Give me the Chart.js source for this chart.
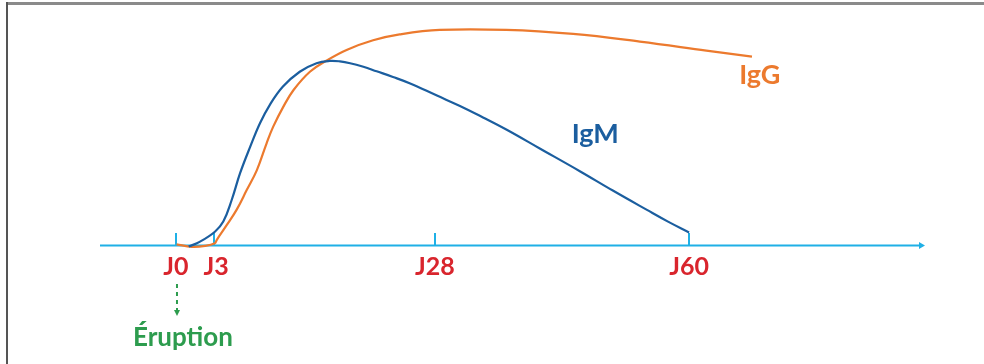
<!DOCTYPE html>
<html>
<head>
<meta charset="utf-8">
<script src="https://cdn.jsdelivr.net/npm/chart.js@4.4.0/dist/chart.umd.min.js"></script>
<style>
html,body{margin:0;padding:0;background:#fff;}
#wrap{position:relative;width:984px;height:364px;}
</style>
</head>
<body>
<div id="wrap"><canvas id="c" width="984" height="364"></canvas></div>
<script>
// ---- data (days after eruption, relative antibody level 0-100) ----
const tickDays   = [0, 3, 28, 60];
const tickLabels = ['J0', 'J3', 'J28', 'J60'];

const igmDays   = [1.0, 1.9, 3.1, 4.05, 5.0, 5.95, 7.1, 8.2, 9.3, 10.8, 12.7, 14.6, 16.1, 17.25, 18.4, 19.9, 21.4, 23.25, 25.2, 28.25, 31.15, 34.05, 37.1, 41.2, 46.3, 50.4, 54.7, 57.35, 60];
const igmLevels = [-0.7, 1.5, 5.9, 10.4, 20, 31.9, 43.7, 54.1, 62.2, 70.4, 77.0, 80.8, 81.8, 81.6, 80.8, 79.2, 77.2, 74.7, 71.8, 66.4, 61.8, 56.7, 51.1, 42.9, 32.7, 24.2, 15.6, 10.4, 5.6];

const iggDays   = [0.05, 1.25, 2.3, 3.1, 3.3, 4.45, 5.55, 6.7, 7.85, 8.95, 9.7, 10.85, 12.0, 13.85, 15.7, 18.0, 21.0, 24.0, 28.6, 37.0, 45.4, 53.8, 62.2, 68.0];
const iggLevels = [0.3, -0.8, -0.4, 0.8, 2.2, 8.9, 15.6, 24.4, 33.3, 45.2, 52.6, 61.5, 68.9, 77.0, 81.9, 86.7, 91.0, 93.6, 95.6, 95.6, 93.8, 90.4, 86.4, 83.7];

const seriesNames = ['IgM', 'IgG'];
const eventLabel = 'Éruption';

// ---- schematic (non-linear) time axis: day -> fraction of axis length ----
const axisKnots = [[-6, 0], [0, 0.0921], [3, 0.1382], [28, 0.406], [60, 0.714], [90, 1]];

function dayToFrac(v) {
  const k = axisKnots;
  let i = 0;
  while (i < k.length - 2 && v > k[i + 1][0]) i++;
  const a = k[i], b = k[i + 1];
  return a[1] + (v - a[0]) * (b[1] - a[1]) / (b[0] - a[0]);
}
function fracToDay(f) {
  const k = axisKnots;
  let i = 0;
  while (i < k.length - 2 && f > k[i + 1][1]) i++;
  const a = k[i], b = k[i + 1];
  return a[0] + (f - a[1]) * (b[0] - a[0]) / (b[1] - a[1]);
}

class SchematicScale extends Chart.LinearScale {
  getPixelForValue(value) { return this.getPixelForDecimal(dayToFrac(value)); }
  getValueForPixel(pixel) { return fracToDay(this.getDecimalForPixel(pixel)); }
}
SchematicScale.id = 'schematic';
SchematicScale.defaults = Chart.LinearScale.defaults;
Chart.register(SchematicScale);

const COL_IGM = '#1b5e9f', COL_IGG = '#ec7a2e', COL_AXIS = '#1fb0e6', COL_RED = '#d9252d', COL_GREEN = '#2d9c4e';
const FONT = '"Lato", "Open Sans", sans-serif';

const decor = {
  id: 'decor',
  beforeDatasetsDraw(chart) {
    const ctx = chart.ctx, x = chart.scales.x, y = chart.scales.y;
    const y0 = y.getPixelForValue(0);
    ctx.save();
    // frame
    ctx.fillStyle = '#8a8a8a';
    ctx.fillRect(6, 2, 978, 3);
    ctx.fillStyle = '#555';
    ctx.fillRect(6, 2, 2, 362);
    // axis line
    ctx.strokeStyle = COL_AXIS; ctx.fillStyle = COL_AXIS; ctx.lineWidth = 2;
    const xl = x.left, xr = x.right;
    ctx.beginPath(); ctx.moveTo(xl, y0 + 0.5); ctx.lineTo(xr - 4, y0 + 0.5); ctx.stroke();
    ctx.beginPath(); ctx.moveTo(xr, y0 + 0.5); ctx.lineTo(xr - 6, y0 - 3); ctx.lineTo(xr - 6, y0 + 4); ctx.closePath(); ctx.fill();
    // ticks
    tickDays.forEach(d => {
      const px = Math.round(x.getPixelForValue(d));
      ctx.beginPath(); ctx.moveTo(px, y0 + 0.5); ctx.lineTo(px, y0 - 12); ctx.stroke();
    });
    ctx.restore();
  },
  afterDatasetsDraw(chart) {
    const ctx = chart.ctx, x = chart.scales.x, y = chart.scales.y;
    const y0 = y.getPixelForValue(0);
    ctx.save();
    ctx.textAlign = 'center'; ctx.textBaseline = 'alphabetic';
    ctx.font = 'bold 25px ' + FONT;
    ctx.fillStyle = COL_RED;
    tickDays.forEach((d, i) => {
      ctx.fillText(tickLabels[i], x.getPixelForValue(d) + (i === 1 ? 2 : 0), y0 + 30);
    });
    // eruption arrow
    const ex = x.getPixelForValue(tickDays[0]) + 1;
    ctx.strokeStyle = COL_GREEN; ctx.fillStyle = COL_GREEN; ctx.lineWidth = 2;
    ctx.setLineDash([4, 4]);
    ctx.beginPath(); ctx.moveTo(ex, y0 + 39); ctx.lineTo(ex, y0 + 65); ctx.stroke();
    ctx.setLineDash([]);
    ctx.beginPath(); ctx.moveTo(ex - 3, y0 + 65); ctx.lineTo(ex + 3, y0 + 65); ctx.lineTo(ex, y0 + 71); ctx.closePath(); ctx.fill();
    ctx.font = 'bold 26px ' + FONT;
    ctx.fillText(eventLabel, ex + 6, y0 + 101);
    // series labels
    ctx.font = 'bold 27px ' + FONT;
    ctx.fillStyle = COL_IGM;
    ctx.fillText(seriesNames[0], x.getPixelForValue(48.2), y.getPixelForValue(45.2));
    ctx.fillStyle = COL_IGG;
    ctx.fillText(seriesNames[1], x.getPixelForValue(69.0), y.getPixelForValue(71.6));
    ctx.restore();
  }
};

const toPts = (xs, ys) => xs.map((d, i) => ({ x: d, y: ys[i] }));

new Chart(document.getElementById('c'), {
  type: 'line',
  data: {
    datasets: [
      { label: seriesNames[0], data: toPts(igmDays, igmLevels), borderColor: COL_IGM, borderWidth: 2.2, pointRadius: 0, tension: 0.4, clip: false, fill: false },
      { label: seriesNames[1], data: toPts(iggDays, iggLevels), borderColor: COL_IGG, borderWidth: 2.2, pointRadius: 0, tension: 0.4, clip: false, fill: false }
    ]
  },
  options: {
    responsive: false,
    animation: false,
    events: [],
    layout: { padding: { left: 100, right: 59, top: 20, bottom: 119 } },
    plugins: { legend: { display: false }, tooltip: { enabled: false } },
    scales: {
      x: { type: 'schematic', min: -6, max: 90, display: false },
      y: { type: 'linear', min: 0, max: 100, display: false }
    }
  },
  plugins: [decor]
});
</script>
</body>
</html>
